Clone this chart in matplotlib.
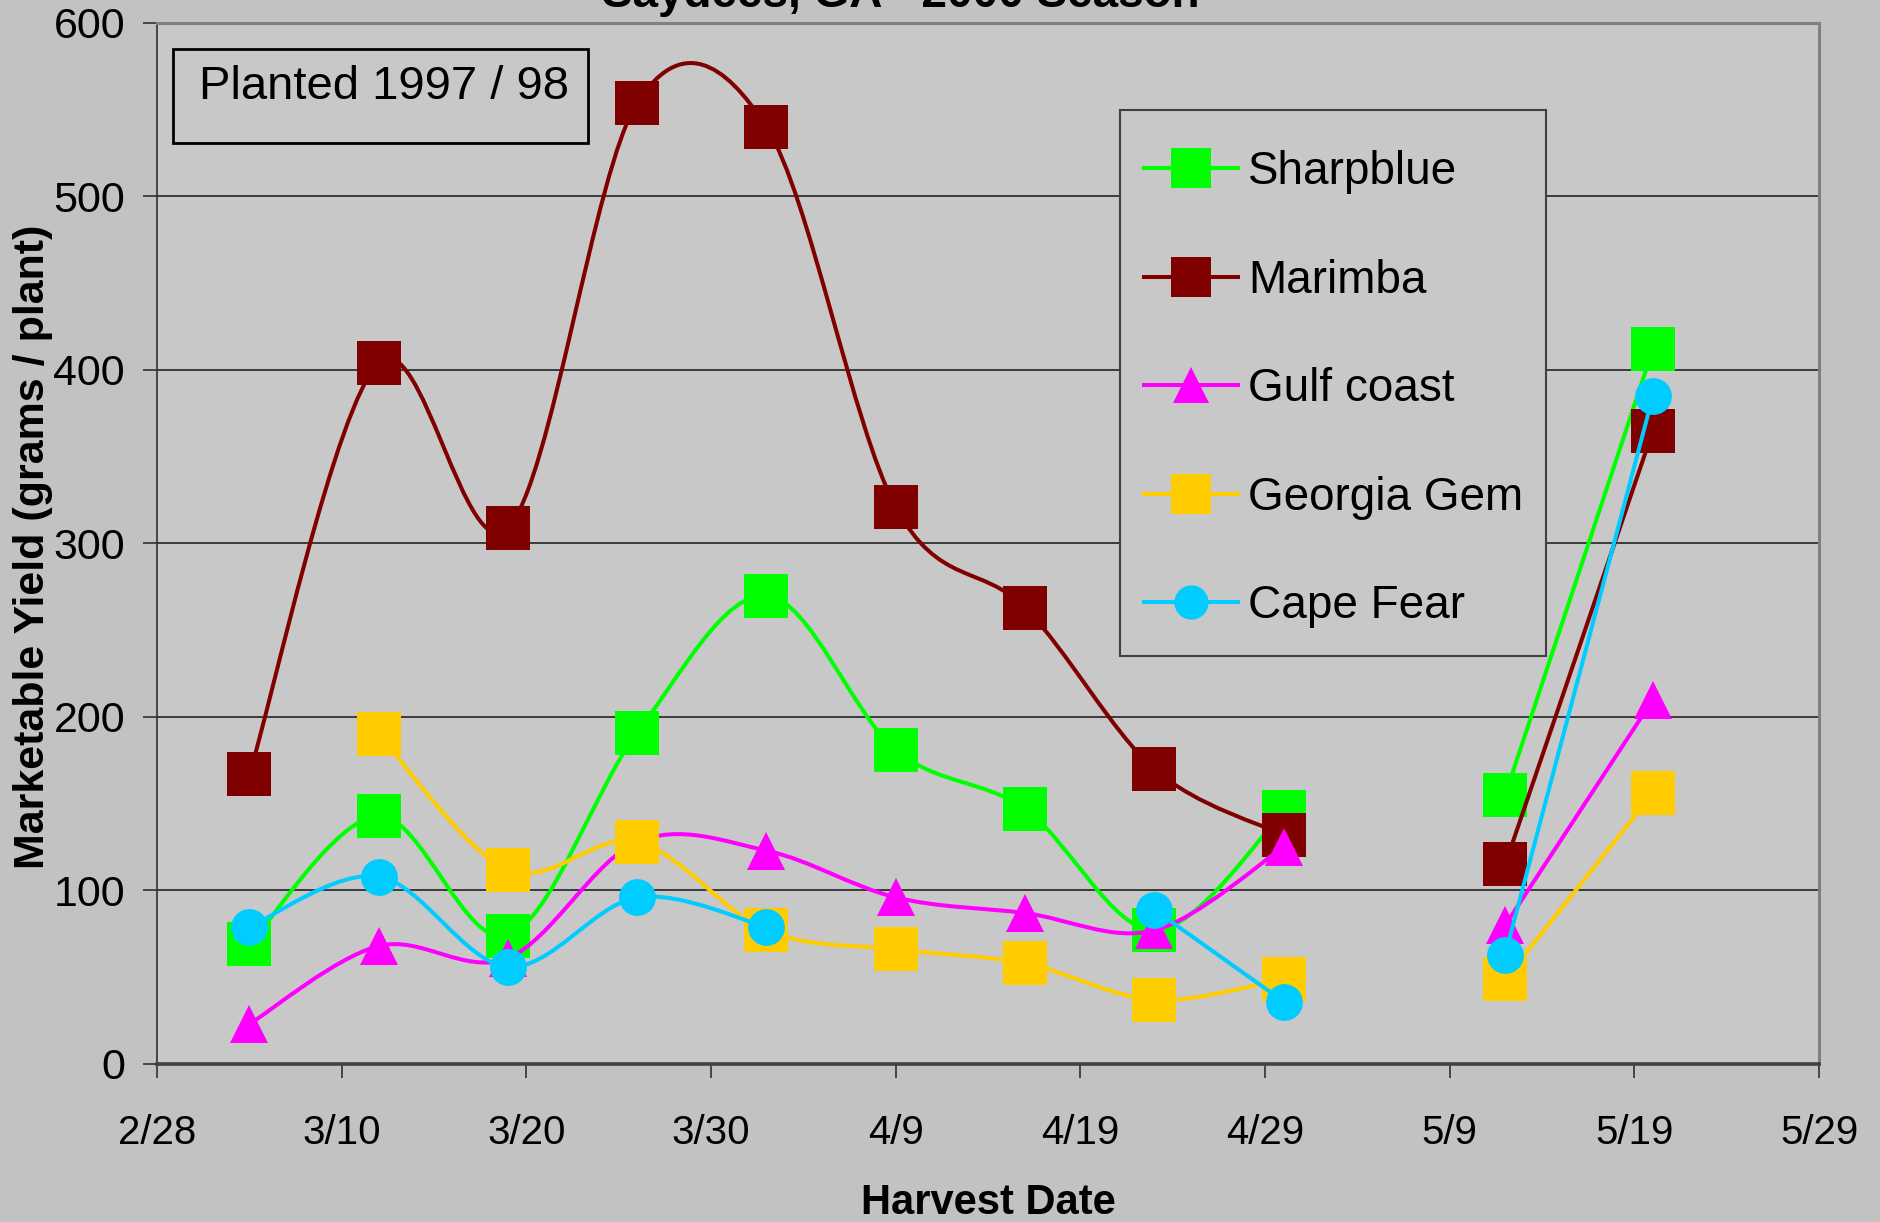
import matplotlib
matplotlib.use("Agg")
import matplotlib.pyplot as plt
import matplotlib.dates as mdates
from matplotlib.path import Path
from matplotlib.patches import PathPatch, Rectangle
from matplotlib.lines import Line2D
import numpy as np
import pandas as pd

plt.rcParams['font.family'] = ['Liberation Sans', 'DejaVu Sans']

# harvest data (grams / plant)
season_year = 2001
harvest_dates = ["3/5", "3/12", "3/19", "3/26", "4/2", "4/9", "4/16",
                 "4/23", "4/30", "5/12", "5/20"]
sharpblue = [69, 143, 74, 191, 270, 181, 147, 77, 145, 155, 412]
marimba = [167, 404, 309, 554, 540, 321, 263, 170, 132, 115, 365]
gulf_coast = [23, 68, 61, 128, 123, 96, 87, 77, 125, 80, 210]
georgia_gem = [np.nan, 190, 112, 128, 77, 66, 58, 37, 49, 49, 156]
cape_fear = [79, 108, 56, 96, 79, np.nan, np.nan, 89, 36, 63, 385]

tick_labels = ["2/28", "3/10", "3/20", "3/30", "4/9", "4/19", "4/29",
               "5/9", "5/19", "5/29"]
max_gap_days = 10   # longer gaps are not joined

series = [
    ("Sharpblue", sharpblue, "#00ff00", "s", 31.5),
    ("Marimba", marimba, "#800000", "s", 31.5),
    ("Gulf coast", gulf_coast, "#ff00ff", "^", 28),
    ("Georgia Gem", georgia_gem, "#ffcc00", "s", 31.5),
    ("Cape Fear", cape_fear, "#00ccff", "o", 26.5),
]


def to_num(labels):
    d = pd.to_datetime([f"{s}/{season_year}" for s in labels], format="%m/%d/%Y")
    return mdates.date2num(d.to_pydatetime())


def smooth_path(xs, ys):
    # excel-like smoothed line: catmull-rom turned into cubic beziers
    n = len(xs)
    verts = [(xs[0], ys[0])]
    codes = [Path.MOVETO]
    for i in range(n - 1):
        a = i - 1 if i > 0 else i
        b = i + 2 if i + 2 < n else i + 1
        c1 = (xs[i] + (xs[i + 1] - xs[a]) / 6, ys[i] + (ys[i + 1] - ys[a]) / 6)
        c2 = (xs[i + 1] - (xs[b] - xs[i]) / 6, ys[i + 1] - (ys[b] - ys[i]) / 6)
        verts += [c1, c2, (xs[i + 1], ys[i + 1])]
        codes += [Path.CURVE4] * 3
    return Path(verts, codes)


def segments(x, y):
    segs, cur = [], []
    for xi, yi in zip(x, y):
        if np.isnan(yi):
            if cur:
                segs.append(cur)
            cur = []
            continue
        if cur and xi - cur[-1][0] > max_gap_days:
            segs.append(cur)
            cur = []
        cur.append((xi, yi))
    if cur:
        segs.append(cur)
    return [s for s in segs if len(s) > 1]


x = to_num(harvest_dates)
tick_x = to_num(tick_labels)

fig = plt.figure(figsize=(18.81, 12.22), dpi=100, facecolor="#c2c2c2")
ax = fig.add_axes([0.0835, 0.1293, 0.8836, 0.8519], facecolor="#c8c8c8")

lw = 2.9
for k, (name, vals, color, marker, ms) in enumerate(series):
    vals = np.array(vals, dtype=float)
    z = 3 + k
    for seg in segments(x, vals):
        sx, sy = zip(*seg)
        ax.add_patch(PathPatch(smooth_path(sx, sy), fill=False, edgecolor=color,
                               lw=lw, zorder=z, joinstyle="round", capstyle="round"))
    ax.plot(x, vals, ls="none", marker=marker, ms=ms, mfc=color, mew=0, zorder=z + 0.5)

ax.set_xlim(tick_x[0], tick_x[-1])
ax.set_ylim(0, 600)
ax.set_xticks(tick_x, tick_labels)
ax.set_yticks(np.arange(0, 601, 100))
ax.tick_params(direction="out", length=10, width=1.2, color="#303030")
ax.tick_params(axis="x", pad=26, labelsize=29)
ax.tick_params(axis="y", pad=13, labelsize=31)

ax.yaxis.grid(True, color="#303030", lw=1.3)
ax.set_axisbelow(True)
for s in ["top", "right"]:
    ax.spines[s].set_color("#808080")
    ax.spines[s].set_linewidth(2.2)
ax.spines["left"].set_color("#303030")
ax.spines["left"].set_linewidth(1.2)
ax.spines["bottom"].set_color("#404040")
ax.spines["bottom"].set_linewidth(2.6)

ax.set_xlabel("Harvest Date", fontsize=30, fontweight="bold", va="center")
ax.xaxis.set_label_coords(0.5, -0.1335)
ax.set_ylabel("Marketable Yield (grams / plant)", fontsize=31, fontweight="bold", va="center")
ax.yaxis.set_label_coords(-0.0746, 0.4965)

fig.text(0.479, 0.9943, "Saydees, GA - 2000 Season", fontsize=33, fontweight="bold",
         ha="center", va="baseline")

# planted note box
ax.add_patch(Rectangle((0.0096, 0.8847), 0.2497, 0.0903, transform=ax.transAxes,
                       fill=False, edgecolor="black", lw=2, zorder=10))
ax.text(0.0253, 0.927, "Planted 1997 / 98", transform=ax.transAxes, fontsize=34,
        ha="left", va="baseline", zorder=11)

# legend box, laid out by hand to match the excel one
leg_x0, leg_x1 = 0.5794, 0.8357
leg_top, leg_bottom = 0.9164, 0.3920
row0, row_step = 0.8605, 0.1042
ax.add_patch(Rectangle((leg_x0, leg_bottom), leg_x1 - leg_x0, leg_top - leg_bottom,
                       transform=ax.transAxes, facecolor="#c8c8c8", edgecolor="#404040",
                       lw=1.5, zorder=20))
for k, (name, vals, color, marker, ms) in enumerate(series):
    ry = row0 - k * row_step
    ax.add_line(Line2D([0.5937, 0.6220, 0.6503], [ry, ry, ry], transform=ax.transAxes,
                       color=color, lw=lw, marker=marker, ms=ms * 0.93, markevery=[1],
                       mfc=color, mew=0, zorder=21, clip_on=False))
    ax.text(0.6565, ry - 0.0155, name, transform=ax.transAxes, fontsize=33,
            ha="left", va="baseline", zorder=22)

fig.savefig("out.png", dpi=100, facecolor=fig.get_facecolor())
